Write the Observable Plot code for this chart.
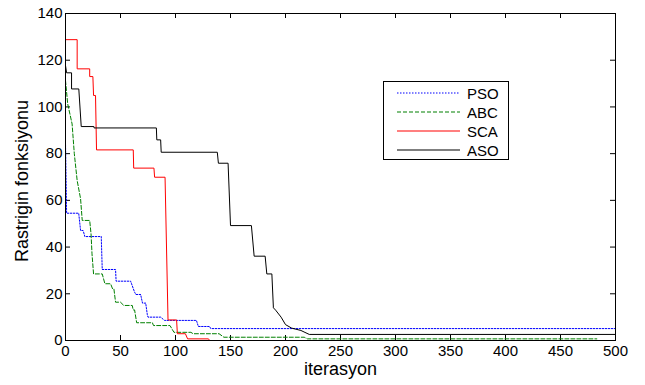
<!DOCTYPE html>
<html><head><meta charset="utf-8">
<script src="https://cdn.jsdelivr.net/npm/d3@7"></script>
<script src="https://cdn.jsdelivr.net/npm/@observablehq/plot@0.6"></script>
<style>
body{margin:0;background:#fff;}
#wrap{position:relative;width:645px;height:385px;font-family:"Liberation Sans",Arial,sans-serif;}
#legend{position:absolute;left:383px;top:81px;width:124px;height:77px;border:1px solid #000;background:#fff;}
</style>
</head><body>
<div id="wrap"><div id="legend"></div></div>
<script>
// ---- data ----
const names = ["PSO", "ABC", "SCA", "ASO"];
const xTicks = [0, 50, 100, 150, 200, 250, 300, 350, 400, 450, 500];
const yTicks = [0, 20, 40, 60, 80, 100, 120, 140];
const xLabel = "iterasyon";
const yLabel = "Rastrigin fonksiyonu";

const psoX = [0, 1, 12, 13.7, 16, 17.6, 32.5, 33.4, 45.5, 46, 59.2, 62.8, 64, 68.3, 70, 72.9, 74.4, 75, 86.5, 90, 119, 120.8, 131, 132, 500];
const psoY = [85, 54.5, 54.5, 47.1, 47.1, 44.5, 44.5, 30.4, 30.4, 25.4, 25.4, 20.7, 19.7, 19.7, 16, 16, 11, 10, 10, 8.6, 8.6, 6, 6, 5.1, 5.1];

const abcX = [0, 2, 6, 8, 10.6, 13.7, 15.2, 22, 23.2, 24.1, 25.5, 33.4, 35.8, 41, 42.8, 44, 45.5, 50, 53, 60.7, 61.5, 62.8, 64.7, 79, 80, 95, 98.6, 114, 116, 139.6, 144, 217, 220, 483];
const abcY = [111.3, 101.3, 92.7, 80, 68.5, 60.7, 51.4, 51.4, 45.7, 37.1, 28.5, 28.5, 24.3, 24.3, 22.1, 22.1, 16.4, 16.4, 15, 15, 13.1, 13.1, 7.6, 7.6, 6.4, 6.4, 3.5, 3.5, 2.9, 2.9, 1.4, 1.4, 0.7, 0.7];

const scaX = [0, 10.6, 10.6, 22, 22, 24.9, 25.5, 27.3, 28.2, 61.6, 62, 80.4, 81, 90.5, 93.2, 101, 101.7, 109, 111, 130, 131, 500];
const scaY = [128.8, 128.8, 116.3, 116.3, 113, 113, 104.9, 104.9, 81.6, 81.6, 73.8, 73.8, 69.9, 69.9, 8.8, 8.8, 2.9, 2.9, 0.7, 0.7, 0, 0];

const asoX = [0, 1, 5.5, 5.5, 12.1, 14.3, 25.8, 26, 82.6, 83, 86.5, 87, 138, 139, 147.8, 150, 169, 171.5, 181.5, 183, 187.6, 189, 191, 196, 200, 205.6, 214, 221.6, 500];
const asoY = [117.7, 114.6, 114.6, 107.7, 107.7, 91.6, 91.6, 91, 91, 85.9, 85.9, 80.6, 80.6, 75.9, 75.9, 49.2, 49.2, 36.1, 36.1, 28.5, 28.5, 14, 13, 10, 6.8, 5.3, 4.3, 2.6, 2.6];

// ---- styles ----
const colors = ["#0000ff", "#008000", "#ff0000", "#000000"];
const dashes = ["1.5,1.5", "4,2", "none", "none"];
const series = [[psoX, psoY], [abcX, abcY], [scaX, scaY], [asoX, asoY]];

const rows = series.flatMap(([xs, ys], i) => xs.map((x, j) => ({name: names[i], x, y: ys[j]})));
const lines = names.map((n, i) => Plot.line(rows.filter(r => r.name === n), {
  x: "x", y: "y", stroke: colors[i], strokeWidth: 1, strokeDasharray: dashes[i]
}));

const chart = Plot.plot({
  width: 645, height: 385,
  marginTop: 13, marginBottom: 45, marginLeft: 65, marginRight: 30,
  style: {fontFamily: '"Liberation Sans", Arial, sans-serif', fontSize: "15px", background: "white", color: "black"},
  x: {domain: [0, 500]},
  y: {domain: [0, 140]},
  marks: [
    Plot.axisX(xTicks, {tickSize: 0, tickPadding: 5, label: null, fontSize: 15}),
    Plot.axisY(yTicks, {tickSize: 0, tickPadding: 3, label: null, fontSize: 15}),
    Plot.tickX(xTicks, {x: d => d, insetTop: 322, stroke: "black"}),
    Plot.tickX(xTicks, {x: d => d, insetBottom: 322, stroke: "black"}),
    Plot.tickY(yTicks, {y: d => d, insetLeft: 545, stroke: "black"}),
    Plot.tickY(yTicks, {y: d => d, insetRight: 545, stroke: "black"}),
    ...lines,
    Plot.frame({stroke: "black"}),
    Plot.text([yLabel], {text: d => d, frameAnchor: "left", textAnchor: "middle", dx: -43, dy: 4, rotate: -90, fontSize: 18}),
    Plot.text([xLabel], {text: d => d, frameAnchor: "bottom", textAnchor: "middle", dy: 34, fontSize: 18})
  ]
});
document.getElementById("wrap").prepend(chart);

// legend
const lg = d3.select("#legend").append("svg").attr("width", 124).attr("height", 77)
  .style("position", "absolute").style("left", 0).style("top", 0);
names.forEach((n, i) => {
  const y = 11 + i * 19;
  lg.append("line").attr("x1", 13).attr("x2", 76).attr("y1", y).attr("y2", y)
    .style("stroke", colors[i]).style("stroke-width", 1.2)
    .style("stroke-dasharray", dashes[i]);
  lg.append("text").attr("x", 83).attr("y", y + 0.5).attr("dy", "0.35em")
    .attr("font-size", 15).attr("font-family", '"Liberation Sans", Arial, sans-serif')
    .attr("fill", "black")
    .text(n);
});
</script>
</body></html>
